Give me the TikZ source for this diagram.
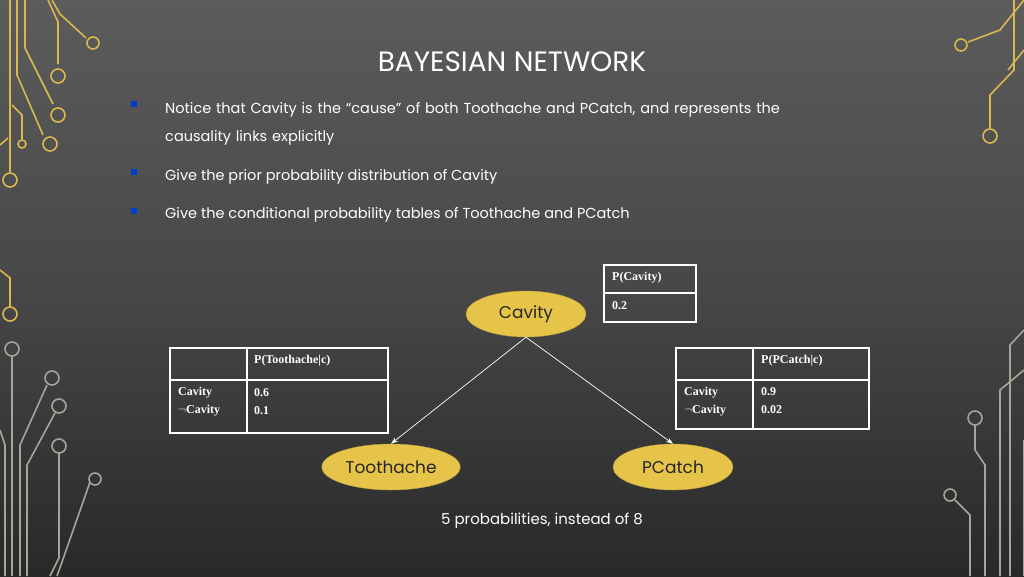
\documentclass[tikz,border=0pt]{standalone}
\usepackage{fontspec}
\setmainfont{Poppins}
\newfontfamily\tabfont{Liberation Serif}[BoldFont={* Bold}]
\usetikzlibrary{arrows.meta,shapes.geometric}
\definecolor{gold}{HTML}{E6C44A}
\definecolor{golddeco}{HTML}{D9B850}
\definecolor{graydeco}{HTML}{A8A49A}
\begin{document}
\begin{tikzpicture}[x=1pt,y=-1pt,
  tab/.style={draw=white,line width=1.6pt},
  cell/.style={font=\tabfont\bfseries\fontsize{12}{18}\selectfont,text=white,anchor=west,inner sep=0pt,align=left},
  bn/.style={ellipse,fill=gold,draw=gold!80!black,minimum width=120pt,minimum height=46pt,font=\fontsize{17}{20}\selectfont,text=black!85},
  arr/.style={draw=white,line width=0.7pt,-{Stealth[length=7pt,width=5pt]}},
  gd/.style={draw=golddeco,line width=1.6pt},
  gg/.style={draw=graydeco,line width=1.6pt},
  bul/.style={fill=blue!70!cyan!80!black,minimum size=6pt,inner sep=0pt},
  txt/.style={anchor=west,text=white,font=\fontsize{14.5}{28}\selectfont,inner sep=0pt}]
\useasboundingbox (0,0) rectangle (1024,576);
\shade[top color=black!64,bottom color=black!84,middle color=black!72] (0,0) rectangle (1024,576);
% decorations left top
\draw[gd] (10,0) -- (10,172); \draw[gd] (10,180) circle (7);
\draw[gd] (17,0) -- (17,75) -- (43,135) ; \draw[gd] (50,144) circle (7);
\draw[gd] (25,0) -- (25,48) -- (53,104); \draw[gd] (58,115) circle (7);
\draw[gd] (48,0) -- (58,22) -- (58,64); \draw[gd] (58,76) circle (7);
\draw[gd] (52,0) -- (60,14) -- (86,38); \draw[gd] (93,43) circle (6);
\draw[gd] (12,105) -- (22,115) -- (22,140); \draw[gd] (22,144) circle (4);
\draw[gd] (0,145) -- (8,138);
% decorations left bottom
\draw[gd] (0,270) -- (10,278) -- (10,307); \draw[gd] (10,314) circle (7);
\draw[gg] (12,356) -- (12,576); \draw[gg] (12,349) circle (7);
\draw[gg] (0,430) -- (5,445) -- (5,576);
\draw[gg] (20,576) -- (20,445) -- (47,385); \draw[gg] (52,378) circle (7);
\draw[gg] (27,576) -- (27,465) -- (55,413); \draw[gg] (59,406) circle (7);
\draw[gg] (50,576) -- (59,558) -- (59,453); \draw[gg] (59,446) circle (7);
\draw[gg] (57,576) -- (62,562) -- (90,482); \draw[gg] (95,479) circle (6);
% decorations right
\draw[gd] (1024,0) -- (1000,30) -- (968,42); \draw[gd] (961,45) circle (6);
\draw[gd] (1014,0) -- (1014,70) -- (990,95) -- (990,128); \draw[gd] (990,136) circle (7);
\draw[gd] (1024,50) -- (1008,70);
\draw[gg] (1024,330) -- (1010,345) -- (1010,576);
\draw[gg] (1000,576) -- (1000,390) -- (1024,370);
\draw[gg] (985,576) -- (985,465) -- (975,450) -- (975,425); \draw[gg] (975,418) circle (7);
\draw[gg] (970,576) -- (970,515) -- (955,500); \draw[gg] (950,495) circle (6);
\draw[gg] (1024,440) -- (1024,576);
% title and bullets
\node[text=white,font=\fontsize{28}{32}\selectfont] (title) at (512,62) {BAYESIAN NETWORK};
\node[bul] (b1) at (134,104) {};
\node[bul] (b2) at (134,172) {};
\node[bul] (b3) at (134,211) {};
\node[txt,text width=660pt] (t1) at (165,124) {Notice that Cavity is the “cause” of both Toothache and PCatch, and represents the causality links explicitly};
\node[txt] (t2) at (165,177) {Give the prior probability distribution of Cavity};
\node[txt] (t3) at (165,215) {Give the conditional probability tables of Toothache and PCatch};
% tables
\draw[tab] (604,265) rectangle (696,322) (604,293) -- (696,293);
\node[cell] (pc) at (612,278) {P(Cavity)};
\node[cell] (pcv) at (612,306) {0.2};
\draw[tab] (170,348) rectangle (388,433) (170,380) -- (388,380) (247,348) -- (247,433);
\node[cell] (th) at (254,361) {P(Toothache|c)};
\node[cell] (tl) at (178,402) {Cavity\\$\neg$Cavity};
\node[cell] (tv) at (254,402) {0.6\\0.1};
\draw[tab] (676,348) rectangle (869,429) (676,380) -- (869,380) (753,348) -- (753,429);
\node[cell] (ph) at (761,361) {P(PCatch|c)};
\node[cell] (pl) at (684,402) {Cavity\\$\neg$Cavity};
\node[cell] (pv) at (761,401) {0.9\\0.02};
% network
\node[bn] (cav) at (526,314) {Cavity};
\node[bn] (too) at (391,467) {Toothache};
\node[bn] (pca) at (673,467) {PCatch};
\draw[arr] (cav.south) -- (too.north);
\draw[arr] (cav.south) -- (pca.north);
\node[text=white,font=\fontsize{15}{18}\selectfont] (note) at (542,521) {5 probabilities, instead of 8};
\end{tikzpicture}
\end{document}
